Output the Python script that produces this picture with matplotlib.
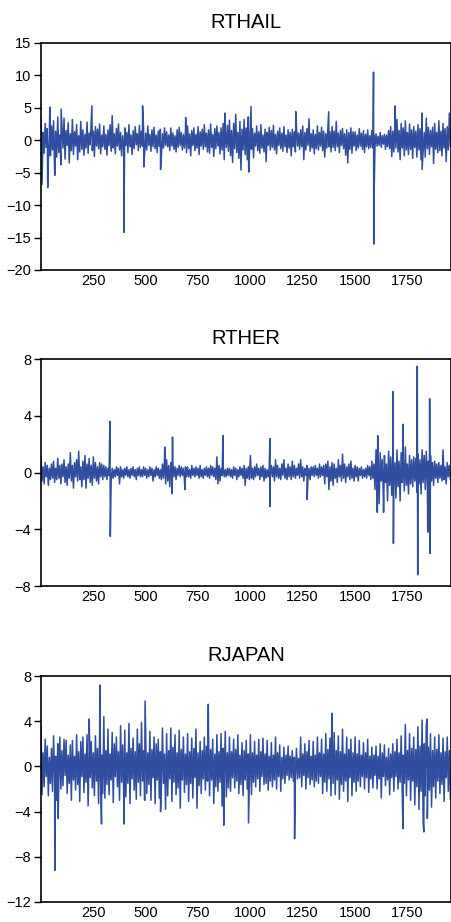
import numpy as np
import matplotlib
matplotlib.use("Agg")
import matplotlib.pyplot as plt

plt.rcParams['font.family'] = ['Liberation Sans', 'DejaVu Sans']

# observations 1..1956 read every 5 obs (local highs/lows), plus the big spikes
base_x = np.arange(1, 1957, 5)

rthail_base = [
    3.4, -6.8, 1.2, -2.0, 2.6, -1.1, 1.8, -3.2, 0.9, -2.4, 2.2, -1.5, 3.0, -4.8, 1.4, -2.6, 3.6, -1.9, 0.8, -3.8,
    2.1, -1.2, 3.4, -2.9, 1.5, -0.8, 2.7, -3.5, 1.0, -1.6, 3.2, -2.2, 1.3, -0.9, 2.4, -3.0, 0.7, -1.8, 2.9, -1.4,
    1.6, -2.3, 0.9, -1.2, 2.8, -2.0, 1.1, -0.7, 3.0, -1.6, 1.4, -2.5, 2.1, -0.9, 1.7, -1.3, 2.5, -2.1, 0.8, -1.0,
    2.2, -1.4, 0.9, -2.3, 1.6, -0.8, 2.4, -1.7, 3.8, -1.2, 1.0, -2.1, 1.8, -0.9, 2.5, -1.5, 1.2, -2.4, 0.7, -1.3,
    1.9, -0.8, 1.2, -1.9, 2.4, -1.0, 0.8, -2.2, 1.5, -1.3, 2.1, -0.7, 1.0, -1.6, 2.3, -1.1, 1.4, -0.9, 1.8, -2.0,
    1.1, -1.5, 2.2, -0.8, 0.9, -1.7, 1.6, -1.0, 2.0, -1.3, 0.8, -1.9, 1.4, -0.9, 1.7, -2.4, 1.0, -1.2, 1.9, -0.8,
    1.3, -1.0, 0.8, -1.6, 1.9, -0.9, 1.1, -1.4, 0.7, -1.8, 1.6, -1.1, 2.0, -0.8, 1.2, -1.5, 0.9, -1.2, 1.5, -1.9,
    2.2, -1.3, 1.0, -2.4, 1.5, -0.8, 1.9, -1.6, 0.9, -1.2, 2.1, -2.2, 1.3, -0.9, 1.7, -1.4, 2.4, -1.0, 1.1, -1.8,
    1.6, -2.0, 2.5, -1.1, 0.9, -2.5, 1.8, -1.3, 2.2, -0.9, 1.2, -2.1, 1.9, -1.5, 2.6, -3.0, 1.4, -1.1, 2.3, -1.7,
    3.1, -2.4, 1.5, -3.4, 2.6, -1.3, 4.0, -1.9, 1.2, -2.8, 2.9, -4.6, 1.7, -1.5, 3.2, -2.2, 1.9, -3.0, 3.6, -2.6,
    2.6, -1.4, 1.8, -2.7, 1.1, -0.9, 2.2, -1.6, 1.3, -2.0, 2.4, -1.2, 0.8, -1.8, 1.7, -3.3, 1.2, -0.8, 2.0, -1.5,
    1.5, -1.1, 2.3, -1.5, 0.9, -2.1, 1.4, -0.8, 1.9, -1.3, 1.1, -1.7, 2.1, -1.0, 0.8, -1.9, 1.6, -1.2, 1.2, -2.4,
    1.7, -1.0, 1.3, -1.8, 2.0, -0.9, 1.1, -1.4, 1.6, -1.0, 2.2, -3.0, 1.2, -1.5, 1.8, -0.8, 3.3, -1.7, 1.0, -1.2,
    1.6, -2.1, 0.9, -1.3, 2.2, -1.5, 1.2, -0.9, 2.0, -1.6, 1.4, -2.6, 1.0, -1.2, 1.8, -1.0, 1.3, -1.8, 2.1, -1.1,
    1.4, -1.6, 2.9, -1.0, 1.1, -1.9, 1.5, -0.8, 1.8, -1.3, 1.0, -2.3, 1.6, -3.5, 1.2, -1.4, 1.9, -2.0, 1.3, -0.9,
    1.3, -1.6, 0.8, -1.2, 1.8, -0.9, 1.1, -1.4, 1.5, -1.9, 0.9, -1.0, 1.6, -1.3, 0.7, -1.1, 1.5, -1.2, 0.8, -1.0,
    1.0, -0.9, 0.6, -0.8, 1.2, -1.1, 0.7, -0.6, 0.9, -1.4, 0.8, -1.0, 1.5, -1.3, 2.1, -2.5, 1.4, -1.8, 2.4, -1.2,
    3.2, -1.8, 1.5, -3.0, 2.6, -1.2, 1.9, -2.4, 3.0, -1.5, 1.2, -2.2, 2.5, -1.4, 1.6, -2.8, 2.1, -1.1, 1.4, -2.6,
    2.4, -1.5, 1.8, -3.0, 4.2, -1.6, 1.2, -2.6, 3.4, -1.3, 2.0, -2.2, 1.5, -1.0, 2.0, -3.6, 2.6, -1.4, 1.2, -1.9,
    3.0, -1.6, 1.4, -2.4, 2.6, -1.2, 1.8, -3.3, 2.1, -1.5, 4.2, -1.0,
]
rthail_spike_x = [33, 43, 67, 97, 244, 397, 486, 492, 572, 692, 880, 993, 1004, 1218, 1375,
                  1589, 1590, 1592, 1692, 1821]
rthail_spike_y = [-7.3, 5.1, -5.4, 4.8, 5.3, -14.2, 5.3, -4.1, -4.5, 3.5, 4.2, -4.9, 5.2, 4.4, 4.4,
                  10.5, -16.0, -8.0, 5.3, -4.5]

rther_base = [
    1.1, -0.6, 0.4, -0.8, 0.7, -0.3, 0.5, -0.9, 0.3, -0.5, 0.6, -0.4, 0.8, -0.7, 0.3, -0.5, 1.0, -0.4, 0.5, -0.8,
    0.6, -0.3, 0.9, -0.7, 0.4, -0.9, 0.6, -0.4, 1.4, -0.6, 0.5, -1.1, 0.7, -0.3, 0.9, -0.6, 1.5, -0.5, 0.4, -1.0,
    0.8, -0.5, 1.2, -1.1, 0.6, -0.4, 1.0, -0.7, 0.5, -0.9, 1.1, -0.4, 0.7, -0.6, 0.4, -0.8, 0.7, -0.3, 0.6, -0.5,
    0.5, -0.3, 0.4, -0.5, 0.3, -0.2, 0.4, -0.6, 0.3, -0.4, 0.2, -0.3, 0.4, -0.2, 0.3, -0.8, 0.4, -0.3, 0.2, -0.4,
    0.3, -0.2, 0.4, -0.3, 0.2, -0.4, 0.3, -0.2, 0.4, -0.3, 0.2, -0.5, 0.3, -0.2, 0.4, -0.3, 0.2, -0.3, 0.4, -0.2,
    0.3, -0.4, 0.2, -0.3, 0.4, -0.2, 0.3, -0.6, 0.2, -0.3, 0.4, -0.2, 0.3, -0.4, 0.2, -0.5, 0.6, -0.4, 1.0, -0.8,
    0.9, -0.6, 0.5, -1.0, 0.7, -0.4, 0.6, -0.3, 0.4, -0.5, 0.3, -0.2, 0.5, -0.3, 0.4, -0.2, 0.3, -0.5, 0.4, -0.3,
    0.4, -0.3, 0.2, -0.4, 0.5, -0.2, 0.3, -0.3, 0.4, -0.2, 0.3, -0.4, 0.5, -0.3, 0.2, -0.4, 0.3, -0.2, 0.4, -0.3,
    0.3, -0.4, 0.5, -0.2, 0.4, -0.3, 0.3, -0.5, 1.1, -0.8, 0.5, -0.6, 0.3, -0.2, 0.4, -0.3, 0.2, -0.3, 0.3, -0.2,
    0.3, -0.3, 0.2, -0.4, 0.4, -0.2, 0.3, -0.5, 0.2, -0.3, 0.4, -0.2, 0.3, -0.4, 0.5, -0.9, 0.3, -0.4, 0.4, -0.5,
    1.2, -0.4, 0.3, -0.5, 0.4, -0.3, 0.6, -0.2, 0.3, -0.5, 0.4, -0.3, 0.5, -0.6, 0.3, -0.4, 0.2, -0.3, 0.4, -0.2,
    0.5, -0.3, 0.4, -0.6, 0.9, -0.3, 0.5, -0.4, 0.3, -0.5, 0.6, -0.2, 0.9, -0.4, 0.3, -0.5, 0.6, -0.3, 0.4, -0.5,
    0.8, -0.3, 0.5, -0.4, 0.3, -0.2, 0.6, -0.4, 0.9, -0.3, 0.4, -0.6, 0.3, -0.2, 0.5, -0.4, 0.3, -0.5, 0.4, -0.2,
    0.4, -0.3, 0.5, -0.2, 0.3, -0.4, 0.6, -0.3, 0.4, -0.2, 0.5, -0.8, 0.6, -0.3, 0.8, -1.2, 0.4, -0.6, 0.7, -0.9,
    0.6, -0.4, 0.3, -0.7, 0.9, -0.3, 0.5, -0.6, 1.3, -0.4, 0.6, -0.7, 0.4, -0.3, 0.6, -0.5, 0.8, -0.4, 0.3, -0.6,
    0.5, -0.3, 0.4, -0.6, 0.3, -0.2, 0.4, -0.4, 0.2, -0.3, 0.3, -0.4, 0.5, -0.2, 0.4, -0.5, 0.8, -0.4, 0.6, -1.2,
    1.6, -0.8, 1.0, -2.2, 1.4, -0.6, 0.9, -1.8, 1.2, -0.7, 0.6, -2.0, 1.5, -0.9, 1.1, -1.6, 1.3, -0.8, 0.7, -1.8,
    1.6, -1.0, 0.8, -2.0, 1.4, -0.7, 1.0, -1.3, 1.8, -0.9, 0.6, -1.5, 1.2, -0.8, 0.9, -1.0, 1.1, -0.6, 1.0, -1.4,
    1.3, -0.8, 0.9, -1.5, 1.6, -0.7, 1.2, -1.2, 1.5, -0.9, 0.8, -1.8, 1.2, -0.6, 0.7, -0.9, 0.8, -0.4, 0.6, -0.7,
    0.7, -0.4, 0.5, -0.6, 1.6, -0.5, 0.4, -0.8, 0.7, -0.3, 0.5, -0.5,
]
rther_spike_x = [330, 332, 592, 626, 629, 688, 870, 1094, 1095, 1272, 1607, 1609,
                 1637, 1682, 1684, 1730, 1798, 1800, 1848, 1857, 1859]
rther_spike_y = [3.6, -4.5, 1.8, -1.5, 2.5, -1.2, 2.6, 2.4, -2.4, -1.9, -2.8, 2.6,
                 -2.8, 5.7, -5.0, 3.4, 7.5, -7.2, -4.2, 5.2, -5.7]

rjapan_base = [
    3.6, -2.5, 1.2, -1.8, 2.4, -0.9, 1.8, -2.6, 0.8, -1.5, 1.6, -2.2, 2.7, -1.1, 0.9, -3.0, 2.0, -1.3, 2.6, -2.0,
    1.4, -1.7, 2.4, -0.8, 2.3, -2.4, 1.0, -1.5, 1.9, -3.0, 2.3, -1.2, 0.9, -2.1, 2.8, -1.6, 1.3, -3.1, 2.2, -0.9,
    2.6, -2.3, 1.1, -1.4, 2.8, -3.5, 1.5, -1.0, 2.2, -1.9, 1.2, -2.6, 2.7, -1.3, 1.6, -3.3, 2.9, -1.5, 1.0, -2.4,
    4.4, -2.8, 1.4, -1.6, 3.3, -2.5, 1.1, -1.2, 3.0, -3.2, 2.0, -0.9, 2.6, -1.8, 1.3, -3.0, 3.6, -1.4, 1.9, -2.4,
    3.2, -2.7, 1.2, -1.5, 3.8, -3.3, 1.6, -1.1, 2.5, -2.1, 1.3, -2.9, 3.3, -1.4, 2.0, -2.6, 3.9, -1.3, 1.4, -3.0,
    2.8, -2.4, 1.2, -1.6, 3.1, -3.0, 1.5, -1.0, 2.6, -3.3, 2.0, -1.2, 2.4, -2.8, 1.3, -1.7, 3.4, -1.5, 1.1, -3.8,
    2.9, -2.6, 1.4, -1.1, 3.4, -3.1, 1.7, -1.4, 2.8, -2.5, 1.2, -1.9, 3.2, -3.7, 1.5, -1.2, 2.6, -2.3, 1.1, -1.6,
    2.9, -3.1, 1.3, -1.5, 2.5, -2.8, 1.6, -1.0, 3.3, -3.7, 1.2, -1.7, 2.2, -2.4, 1.4, -1.1, 2.6, -2.1, 1.8, -1.3,
    3.0, -2.6, 1.5, -1.2, 2.4, -3.3, 1.1, -1.8, 2.8, -2.2, 1.3, -1.4, 2.9, -3.5, 1.6, -1.1, 3.1, -2.7, 1.2, -1.9,
    2.6, -2.2, 1.3, -1.0, 2.4, -1.9, 1.5, -1.3, 2.8, -2.4, 1.0, -1.6, 2.1, -2.6, 1.4, -1.2, 2.3, -2.0, 1.1, -1.7,
    2.8, -2.5, 1.2, -1.4, 2.2, -1.8, 1.0, -1.1, 2.4, -2.2, 1.3, -0.9, 2.5, -1.6, 1.1, -1.5, 2.3, -2.1, 0.9, -1.3,
    2.1, -1.8, 1.0, -1.2, 2.6, -2.0, 1.2, -0.9, 1.9, -2.2, 0.8, -1.1, 1.7, -1.5, 1.0, -0.8, 1.8, -1.2, 0.9, -1.0,
    1.4, -1.3, 0.8, -0.9, 1.6, -1.1, 0.7, -1.0, 2.6, -1.8, 1.1, -0.8, 2.0, -2.0, 1.3, -1.0, 2.3, -1.6, 0.9, -1.2,
    2.2, -1.8, 1.0, -1.3, 2.6, -1.5, 1.2, -0.9, 2.4, -2.4, 1.1, -1.4, 2.9, -2.2, 1.5, -1.1, 2.5, -2.6, 1.2, -1.5,
    3.0, -2.5, 1.4, -1.2, 2.7, -2.9, 1.3, -1.6, 3.3, -2.2, 1.1, -1.3, 2.6, -3.1, 1.5, -1.0, 2.4, -2.6, 1.2, -1.4,
    2.6, -2.2, 1.1, -1.3, 2.3, -1.8, 1.0, -0.9, 2.1, -2.0, 1.2, -1.0, 2.4, -2.3, 0.9, -1.1, 1.7, -1.9, 1.0, -0.8,
    1.8, -2.0, 0.9, -1.1, 2.0, -2.8, 1.2, -0.9, 1.9, -1.7, 0.8, -1.2, 1.6, -2.5, 1.1, -1.0, 2.0, -2.2, 1.3, -0.9,
    2.4, -2.0, 1.2, -1.4, 2.7, -2.2, 1.0, -1.5, 3.7, -2.6, 1.4, -1.2, 2.9, -3.0, 1.6, -1.3, 2.6, -3.4, 1.5, -1.8,
    3.5, -3.8, 1.8, -2.2, 4.1, -5.0, 2.0, -2.6, 3.6, -4.6, 1.7, -2.1, 2.9, -3.6, 1.4, -1.8, 2.6, -2.8, 1.5, -1.3,
    2.8, -2.4, 1.2, -1.6, 2.5, -3.1, 1.3, -1.0, 2.6, -2.2, 1.4, -2.9,
]
rjapan_spike_x = [67, 83, 231, 282, 290, 397, 498, 572, 800, 874, 992, 1212,
                  1390, 1730, 1829, 1845]
rjapan_spike_y = [-9.2, -4.6, 4.2, 7.2, -5.1, -5.1, 5.8, -4.0, 5.5, -5.2, -5.0, -6.4,
                  4.7, -5.5, -5.8, 4.2]

titles = ["RTHAIL", "RTHER", "RJAPAN"]
ylims = [(-20, 15), (-8, 8), (-12, 8)]
yticks = [np.arange(-20, 16, 5), np.arange(-8, 9, 4), np.arange(-12, 9, 4)]
xticks = [250, 500, 750, 1000, 1250, 1500, 1750]

series = [
    (rthail_base, rthail_spike_x, rthail_spike_y),
    (rther_base, rther_spike_x, rther_spike_y),
    (rjapan_base, rjapan_spike_x, rjapan_spike_y),
]

fig = plt.figure(figsize=(4.52, 9.22), dpi=100)
positions = [
    [0.0907, 0.7072, 0.9071, 0.2462],
    [0.0907, 0.3644, 0.9071, 0.2462],
    [0.0907, 0.0217, 0.9071, 0.2451],
]

for k in range(3):
    base, sx, sy = series[k]
    x = np.concatenate([base_x, sx])
    y = np.concatenate([base, sy])
    order = np.argsort(x, kind="stable")
    ax = fig.add_axes(positions[k])
    ax.plot(x[order], y[order], color="#304EA0", lw=1.1)
    ax.set_xlim(1, 1959)
    ax.set_ylim(*ylims[k])
    ax.set_yticks(yticks[k])
    ax.set_xticks(xticks)
    ax.set_title(titles[k], fontsize=14.5, pad=11)
    ax.tick_params(axis="y", direction="out", length=5, width=1, pad=2, labelsize=10.5)
    ax.tick_params(axis="x", direction="in", length=0, pad=3, labelsize=10.5)
    for s in ax.spines.values():
        s.set_linewidth(1.2)

fig.savefig("out.png", dpi=100)
